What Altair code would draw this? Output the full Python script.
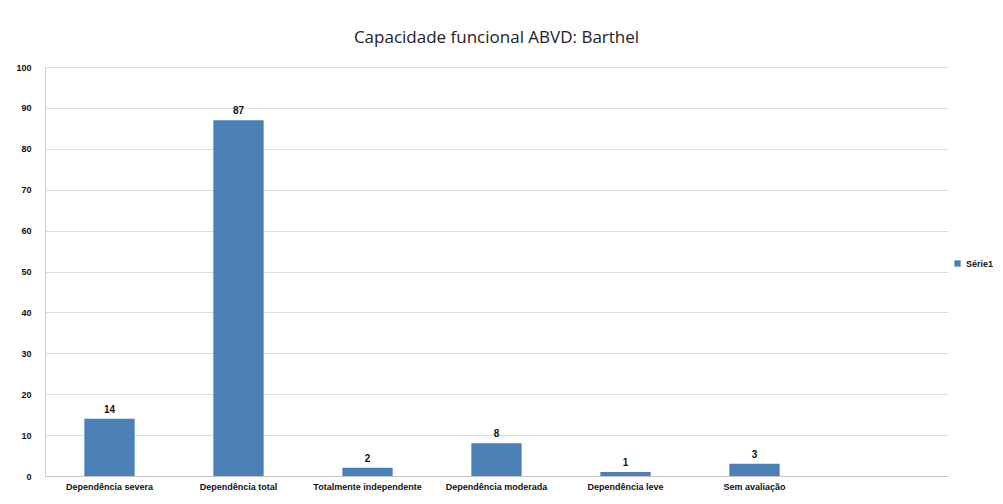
import altair as alt
import pandas as pd

categories = ["Dependência severa", "Dependência total", "Totalmente independente",
              "Dependência moderada", "Dependência leve", "Sem avaliação"]
values = [14, 87, 2, 8, 1, 3]
series = ["Série1"] * len(categories)
domain_slots = categories + [" "]

df = pd.DataFrame({"cat": categories, "val": values, "serie": series})

FONT = "Liberation Sans"

base = alt.Chart(df).encode(
    x=alt.X("cat:N", sort=domain_slots,
            scale=alt.Scale(domain=domain_slots, paddingInner=0.61, paddingOuter=0.305),
            axis=alt.Axis(title=None, labelAngle=0, labelFontSize=9, labelColor="#111",
                          labelFont=FONT, labelFontWeight="bold",
                          ticks=False, domainColor="#c8c8c8", labelPadding=6)),
)

bars = base.mark_bar(color="#4a80b6").encode(
    y=alt.Y("val:Q", scale=alt.Scale(domain=[0, 100]),
            axis=alt.Axis(title=None, values=list(range(0, 101, 10)), labelFontSize=9,
                          labelColor="#111", labelFont=FONT,
                          labelFontWeight="bold", ticks=False, labelPadding=14,
                          domainColor="#d0d0d0", gridColor="#dcdcdc")),
    color=alt.Color("serie:N", scale=alt.Scale(range=["#4a80b6"]),
                    legend=alt.Legend(title=None, orient="none", legendX=908, legendY=192,
                                      symbolType="square", symbolSize=40, labelFontSize=9,
                                      labelFont=FONT, labelFontWeight="bold", labelColor="#111")),
)

labels = base.mark_text(dy=-9, fontSize=10, fontWeight="bold", color="#111",
                        font=FONT).encode(
    y=alt.Y("val:Q"), text=alt.Text("val:Q"))

chart = alt.layer(bars, labels).properties(
    width=903, height=409,
    title=alt.TitleParams("Capacidade funcional ABVD: Barthel", fontSize=17,
                          fontWeight="normal", font="Open Sans", color="#222", offset=16),
    autosize=alt.AutoSizeParams(type="none"),
    padding={"left": 37, "top": 59, "right": 45, "bottom": 18},
).configure_view(stroke=None)

chart.save("out.html", embed_options={"renderer": "svg", "actions": False})
